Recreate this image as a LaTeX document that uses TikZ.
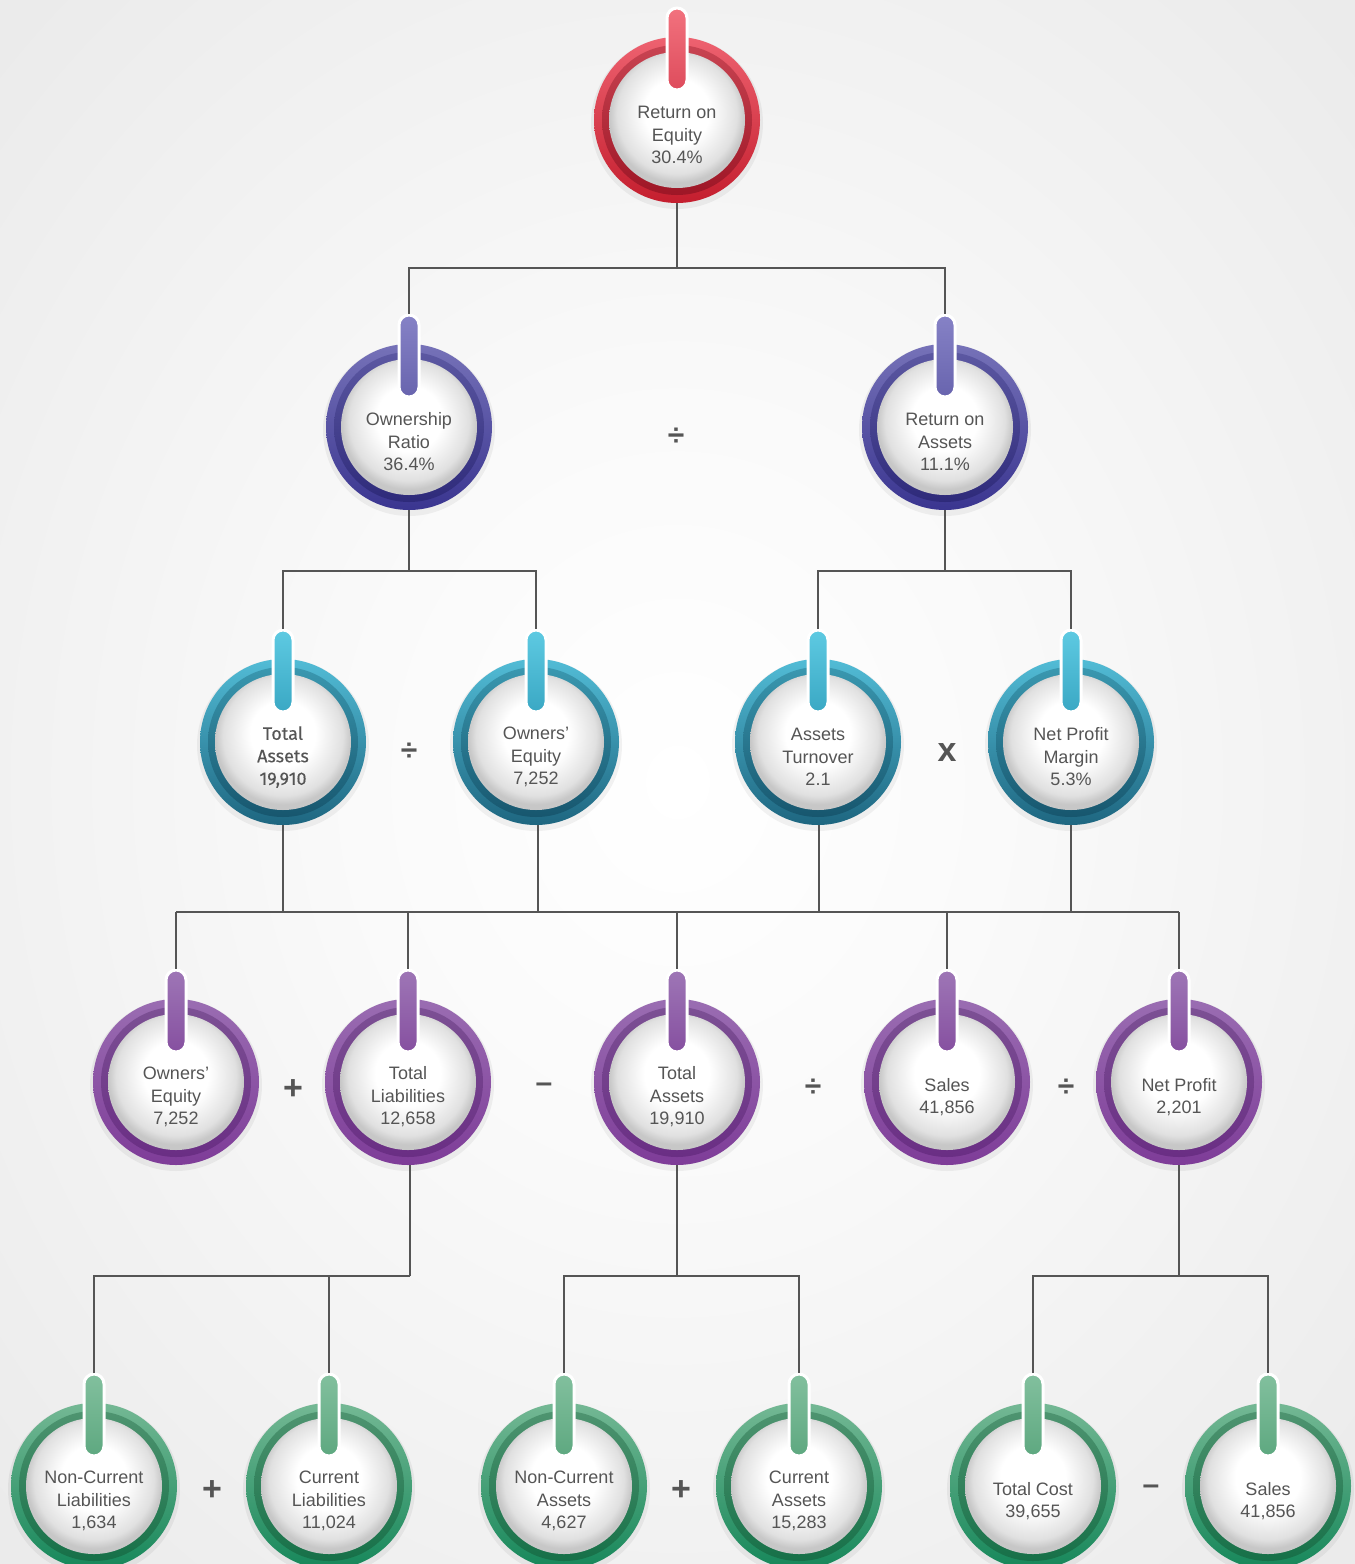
\documentclass[tikz,border=0pt]{standalone}
\usepackage{fontspec}
\setmainfont{Liberation Sans}
\newfontfamily\dinfont{Fira Sans}[FakeBold=0.2]
\definecolor{txtgray}{HTML}{555555}
\definecolor{linegray}{HTML}{555555}
% red
\definecolor{redA}{HTML}{EE6270}\definecolor{redB}{HTML}{C41E2E}
\definecolor{redC}{HTML}{C84452}\definecolor{redD}{HTML}{9E1626}
\definecolor{redE}{HTML}{F2727E}\definecolor{redF}{HTML}{DE4C5C}
% indigo
\definecolor{indA}{HTML}{7672B8}\definecolor{indB}{HTML}{3A3590}
\definecolor{indC}{HTML}{5C58A2}\definecolor{indD}{HTML}{2E2A7A}
\definecolor{indE}{HTML}{8682C6}\definecolor{indF}{HTML}{6864AE}
% teal
\definecolor{tealA}{HTML}{52BCD6}\definecolor{tealB}{HTML}{1E6680}
\definecolor{tealC}{HTML}{3A98B0}\definecolor{tealD}{HTML}{17566E}
\definecolor{tealE}{HTML}{5ECAE2}\definecolor{tealF}{HTML}{3AA8C4}
% purple
\definecolor{purA}{HTML}{9A6DB2}\definecolor{purB}{HTML}{7E3C98}
\definecolor{purC}{HTML}{7C5094}\definecolor{purD}{HTML}{6A2E84}
\definecolor{purE}{HTML}{9E76B6}\definecolor{purF}{HTML}{8650A0}
% green
\definecolor{grnA}{HTML}{74B894}\definecolor{grnB}{HTML}{16875A}
\definecolor{grnC}{HTML}{4E9470}\definecolor{grnD}{HTML}{167048}
\definecolor{grnE}{HTML}{82C09E}\definecolor{grnF}{HTML}{5EA880}
\pgfdeclareradialshading{discshade}{\pgfpoint{0bp}{4bp}}{%
  color(0bp)=(white); color(12bp)=(white); color(22bp)=(black!12); color(25bp)=(black!22); color(50bp)=(black!22)}
\pgfdeclareradialshading{bgshade}{\pgfpoint{0bp}{0bp}}{%
  color(0bp)=(white); color(12bp)=(white!98!black); color(35bp)=(black!8); color(50bp)=(black!9)}
\tikzset{
  ballshape/.style={circle, minimum size=166pt, inner sep=0pt},
  balltext/.style={align=center, text=txtgray, font=\fontsize{18}{22.5}\selectfont, inner sep=0pt},
  conn/.style={draw=linegray, line width=1.8pt},
  opsign/.style={text=txtgray, font=\bfseries\fontsize{30}{30}\selectfont, inner sep=0pt},
  opbig/.style={opsign, font=\bfseries\fontsize{34}{34}\selectfont},
}
% name, x, y, colour prefix, text
\newcommand{\drawball}[5]{%
  \fill[black, opacity=0.05] (#2,#3+3) circle (86pt);
  \shade[top color=#4A, bottom color=#4B] (#2,#3) circle (83pt);
  \shade[top color=#4C, bottom color=#4D] (#2,#3) circle (75pt);
  \shade[shading=discshade] (#2,#3) circle (68pt);
  \shadedraw[draw=white, line width=3pt, top color=#4E, bottom color=#4F, rounded corners=10pt] (#2-10,#3-112) rectangle (#2+10,#3-30);
  \node[ballshape] (#1) at (#2,#3) {};
  \node[balltext] (#1-txt) at (#2,#3+15) {#5};
  \coordinate (#1-t) at (#2,#3-113);
}
\begin{document}
\begin{tikzpicture}[x=1pt, y=-1pt]
\useasboundingbox (0,0) rectangle (1355,1564);
\clip (0,0) rectangle (1355,1564);
\shade[shading=bgshade] (0,0) rectangle (1355,1564);

% bus coordinates
\coordinate (b1) at (677,268);
\coordinate (b2l) at (409,571);
\coordinate (b2r) at (945,571);
\coordinate (b3l) at (176,912);
\coordinate (b3r) at (1179,912);
\coordinate (b4a) at (410,1276);
\coordinate (b4b) at (677,1276);
\coordinate (b4c) at (1179,1276);

% level 1
\drawball{roe}{677}{120}{red}{Return on\\Equity\\30.4\%}
% level 2
\drawball{or}{409}{427}{ind}{Ownership\\Ratio\\36.4\%}
\drawball{ra}{945}{427}{ind}{Return on\\Assets\\11.1\%}
% level 3
\drawball{ta3}{283}{742}{teal}{\dinfont Total\\\dinfont Assets\\\dinfont 19,910}
\drawball{oe3}{536}{742}{teal}{Owners’\\Equity\\7,252}
\drawball{at3}{818}{742}{teal}{Assets\\Turnover\\2.1}
\drawball{npm3}{1071}{742}{teal}{Net Profit\\Margin\\5.3\%}
% level 4
\drawball{oe4}{176}{1082}{pur}{Owners’\\Equity\\7,252}
\drawball{tl4}{408}{1082}{pur}{Total\\Liabilities\\12,658}
\drawball{ta4}{677}{1082}{pur}{Total\\Assets\\19,910}
\drawball{s4}{947}{1082}{pur}{Sales\\41,856}
\drawball{np4}{1179}{1082}{pur}{Net Profit\\2,201}
% level 5
\drawball{ncl}{94}{1486}{grn}{Non-Current\\Liabilities\\1,634}
\drawball{cl}{329}{1486}{grn}{Current\\Liabilities\\11,024}
\drawball{nca}{564}{1486}{grn}{Non-Current\\Assets\\4,627}
\drawball{ca}{799}{1486}{grn}{Current\\Assets\\15,283}
\drawball{tc}{1033}{1486}{grn}{Total Cost\\39,655}
\drawball{s5}{1268}{1486}{grn}{Sales\\41,856}

% connectors
\draw[conn] (roe.south) -- (b1);
\draw[conn] (or-t) |- (b1) -| (ra-t);

\draw[conn] (or.south) -- (b2l);
\draw[conn] (ta3-t) |- (b2l) -| (oe3-t);
\draw[conn] (ra.south) -- (b2r);
\draw[conn] (at3-t) |- (b2r) -| (npm3-t);

\draw[conn] (b3l) -- (b3r);
\draw[conn] (ta3.south) -- (ta3.south |- b3l);
\draw[conn] ([xshift=2pt]oe3.south) -- ([xshift=2pt]oe3.south |- b3l);
\draw[conn] ([xshift=1pt]at3.south) -- ([xshift=1pt]at3.south |- b3l);
\draw[conn] (npm3.south) -- (npm3.south |- b3l);
\draw[conn] (b3l) -- (oe4-t);
\draw[conn] (tl4-t |- b3l) -- (tl4-t);
\draw[conn] (ta4-t |- b3l) -- (ta4-t);
\draw[conn] (s4-t |- b3l) -- (s4-t);
\draw[conn] (b3r) -- (np4-t);

\draw[conn] ([xshift=2pt]tl4.south) -- (b4a);
\draw[conn] (ncl-t) |- (b4a);
\draw[conn] (cl-t) -- (cl-t |- b4a);
\draw[conn] (ta4.south) -- (b4b);
\draw[conn] (nca-t) |- (b4b) -| (ca-t);
\draw[conn] (np4.south) -- (b4c);
\draw[conn] (tc-t) |- (b4c) -| (s5-t);

% operators
\node[opsign] (op1) at (676,437) {÷};
\node[opsign] (op2) at (409,752) {÷};
\node[opbig] (op3) at (947,753) {x};
\node[opbig] (op4) at (293,1090) {+};
\node[opsign] (op5) at (544,1088) {–};
\node[opsign] (op6) at (813,1088) {÷};
\node[opsign] (op7) at (1066,1088) {÷};
\node[opbig] (op8) at (212,1491) {+};
\node[opbig] (op9) at (681,1491) {+};
\node[opsign] (op10) at (1151,1490) {–};
\end{tikzpicture}
\end{document}
